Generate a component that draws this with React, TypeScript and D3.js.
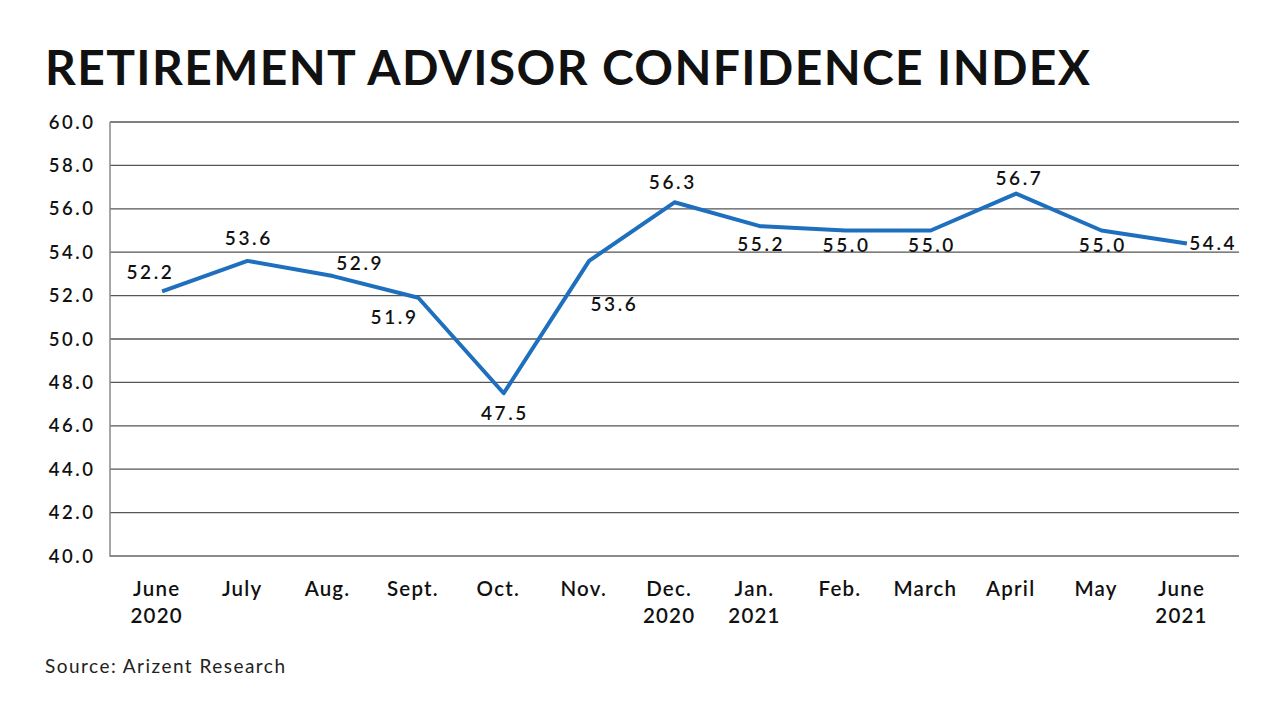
import React from "react";
import * as d3 from "d3";

const months = ["June 2020", "July", "Aug.", "Sept.", "Oct.", "Nov.", "Dec. 2020", "Jan. 2021", "Feb.", "March", "April", "May", "June 2021"];
const confidence = [52.2, 53.6, 52.9, 51.9, 47.5, 53.6, 56.3, 55.2, 55.0, 55.0, 56.7, 55.0, 54.4];
const yTicks = [40, 42, 44, 46, 48, 50, 52, 54, 56, 58, 60];

// label offsets relative to each point (dx, dy to baseline)
const labelOffsets: [number, number][] = [
    [-13, -12], [0, -16], [26, -6], [-25, 26], [0, 27], [24, 50], [-3, -13],
    [0, 25], [0, 21], [0, 21], [2, -9], [0, 21], [25, 6],
];

const W = 1280;
const H = 720;
const margin = { left: 110, right: 1239, top: 122, bottom: 556 };
const font = "Lato, 'Open Sans', sans-serif";
const numSpacing = 2.6;

export default function App() {
    const x = d3.scalePoint<string>()
        .domain(months)
        .range([margin.left, margin.right])
        .padding(0.61);

    const y = d3.scaleLinear()
        .domain([40, 60])
        .range([margin.bottom, margin.top]);

    const line = d3.line<number>()
        .x((_, i) => x(months[i]) || 0)
        .y(d => y(d));

    return (
        <div style={{ position: "fixed", left: 0, top: 0, width: W, height: H, background: "#fff" }}>
            <svg width={W} height={H} style={{ display: "block", fontFamily: font }}>
                <text x={45} y={85} fontSize={48} fontWeight={700} fill="#111" textLength={1045} lengthAdjust="spacing">
                    RETIREMENT ADVISOR CONFIDENCE INDEX
                </text>

                {/* gridlines */}
                {yTicks.map(t => (
                    <g key={t}>
                        <line
                            x1={margin.left}
                            x2={margin.right}
                            y1={y(t)}
                            y2={y(t)}
                            stroke={t === 40 ? "#8a8a8a" : "#555"}
                            strokeWidth={t === 40 ? 2 : 1.3}
                        />
                        <text x={93 + numSpacing} y={y(t) + 6.5} textAnchor="end" fontSize={18.5} fontWeight={600} fill="#111" letterSpacing={numSpacing}>
                            {t.toFixed(1)}
                        </text>
                    </g>
                ))}
                <line x1={margin.left} x2={margin.left} y1={margin.top} y2={margin.bottom + 1} stroke="#8a8a8a" strokeWidth={1.5} />

                {/* x labels */}
                {months.map(m => {
                    const parts = m.split(" ");
                    const cx = (x(m) || 0) - 6 + 0.6;
                    return (
                        <text key={m} x={cx} y={596} textAnchor="middle" fontSize={20.5} fontWeight={600} fill="#111" letterSpacing={1.2}>
                            {parts.map((p, i) => (
                                <tspan key={i} x={cx} dy={i === 0 ? 0 : 27}>{p}</tspan>
                            ))}
                        </text>
                    );
                })}

                <path d={line(confidence) || ""} fill="none" stroke="#1f6fbf" strokeWidth={4} strokeLinejoin="round" />

                {confidence.map((v, i) => (
                    <text
                        key={i}
                        x={(x(months[i]) || 0) + labelOffsets[i][0] + numSpacing / 2}
                        y={y(v) + labelOffsets[i][1]}
                        textAnchor="middle"
                        fontSize={19}
                        fontWeight={600}
                        fill="#111"
                        letterSpacing={numSpacing}
                    >
                        {v.toFixed(1)}
                    </text>
                ))}

                <text x={45} y={673} fontSize={19} fill="#222" textLength={240} lengthAdjust="spacing">Source: Arizent Research</text>
            </svg>
        </div>
    );
}
